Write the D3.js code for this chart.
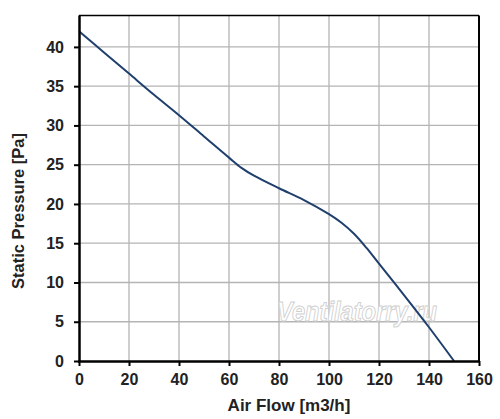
<!DOCTYPE html>
<html><head><meta charset="utf-8">
<script src="https://cdn.jsdelivr.net/npm/d3@7"></script>
<style>body{margin:0;background:#fff}svg{display:block}</style>
</head><body>
<script>
const flow = [0,10,20,30,40,50,60,65,70,80,90,100,105,110,115,120,130,140,150];
const pressure = [42,39.3,36.6,33.9,31.3,28.6,25.9,24.6,23.6,22.0,20.5,18.7,17.6,16.2,14.4,12.4,8.4,4.3,0];
const xTicks = [0,20,40,60,80,100,120,140,160];
const yTicks = [0,5,10,15,20,25,30,35,40];
const xTitle = "Air Flow [m3/h]";
const yTitle = "Static Pressure [Pa]";
const watermark = "Ventilatorry.ru";

const W=500,H=419;
const m={l:79,r:21,t:15.5,b:58};
const svg=d3.select("body").append("svg").attr("width",W).attr("height",H);
const x=d3.scaleLinear().domain([0,160]).range([m.l,W-m.r]);
const y=d3.scaleLinear().domain([0,44]).range([H-m.b,m.t]);

// grid
svg.append("g").selectAll("line").data(xTicks.slice(1,-1)).join("line")
 .attr("x1",d=>x(d)).attr("x2",d=>x(d)).attr("y1",y(0)).attr("y2",y(44))
 .attr("stroke","#b4b4b4").attr("stroke-width",1.3);
svg.append("g").selectAll("line").data(yTicks.slice(1)).join("line")
 .attr("x1",x(0)).attr("x2",x(160)).attr("y1",d=>y(d)).attr("y2",d=>y(d))
 .attr("stroke","#b4b4b4").attr("stroke-width",1.3);

// frame top/right
svg.append("line").attr("x1",x(0)).attr("x2",x(160)).attr("y1",y(44)).attr("y2",y(44)).attr("stroke","#000").attr("stroke-width",1.5);
svg.append("line").attr("x1",x(160)).attr("x2",x(160)).attr("y1",y(44)).attr("y2",y(0)).attr("stroke","#000").attr("stroke-width",2);

// watermark
svg.append("text").attr("x",357).attr("y",321).attr("text-anchor","middle")
 .attr("font-family","Liberation Sans, Arial, sans-serif").attr("font-size",28)
 .attr("font-style","italic").attr("font-weight","bold")
 .attr("fill","#fff").attr("stroke","#d0d0d0").attr("stroke-width",1)
 .attr("textLength",160).attr("lengthAdjust","spacingAndGlyphs")
 .text(watermark);

// curve
svg.append("path").datum(flow.map((f,i)=>[f,pressure[i]]))
 .attr("d",d3.line().x(d=>x(d[0])).y(d=>y(d[1])).curve(d3.curveCatmullRom.alpha(0.5)))
 .attr("fill","none").attr("stroke","#1f3f6d").attr("stroke-width",2);

// axes
const font="Liberation Sans, Arial, sans-serif";
const gx=svg.append("g").attr("transform",`translate(0,${y(0)})`)
 .call(d3.axisBottom(x).tickValues(xTicks).tickSize(5).tickPadding(8));
const gy=svg.append("g").attr("transform",`translate(${x(0)},0)`)
 .call(d3.axisLeft(y).tickValues(yTicks).tickSize(5).tickPadding(10));
[gx,gy].forEach(g=>{
 g.select(".domain").attr("stroke","#000").attr("stroke-width",2.5);
 g.selectAll(".tick line").attr("stroke","#000").attr("stroke-width",2);
 g.selectAll("text").attr("font-family",font).attr("font-size",16).attr("font-weight","bold").attr("fill","#222");
});
gx.select(".domain").attr("d",`M${x(0)-1},0.5H${x(160)}`);
gy.select(".domain").attr("d",`M0.5,${y(0)+1}V${y(44)}`);

svg.append("text").attr("x",289).attr("y",411).attr("text-anchor","middle")
 .attr("font-family",font).attr("font-size",17).attr("font-weight","bold").attr("fill","#222").text(xTitle);
svg.append("text").attr("transform",`translate(24,211) rotate(-90)`).attr("text-anchor","middle")
 .attr("font-family",font).attr("font-size",16.5).attr("font-weight","bold").attr("fill","#222").text(yTitle);
</script>
</body></html>
